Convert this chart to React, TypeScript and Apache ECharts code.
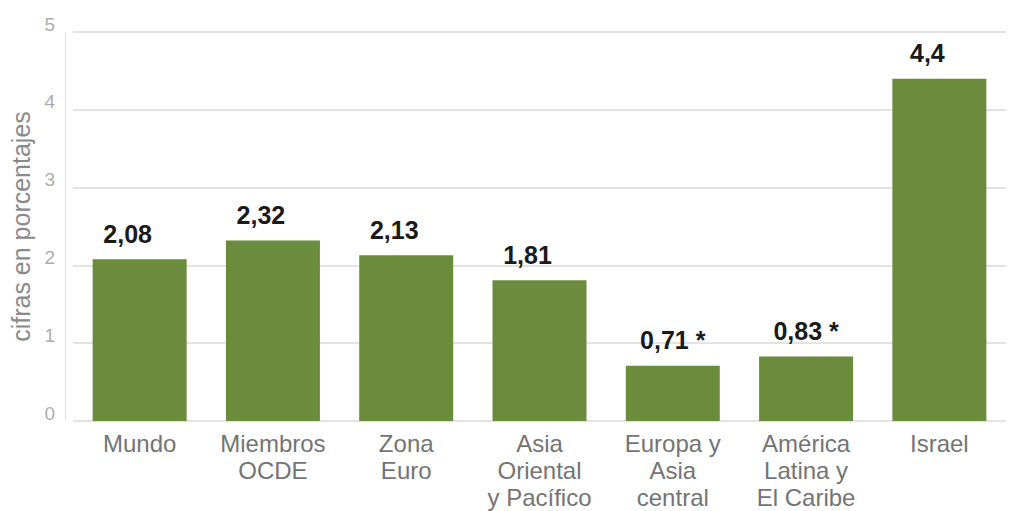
import React, { useEffect, useRef } from "react";
import * as echarts from "echarts";

const categories = [
  "Mundo",
  "Miembros\nOCDE",
  "Zona\nEuro",
  "Asia\nOriental\ny Pacífico",
  "Europa y\nAsia\ncentral",
  "América\nLatina y\nEl Caribe",
  "Israel",
];
const values = [2.08, 2.32, 2.13, 1.81, 0.71, 0.83, 4.4];
const asterisk = [false, false, false, false, true, true, false];
const yTicks = [0, 1, 2, 3, 4, 5];
const yTitle = "cifras en porcentajes";

const FONT = "'Liberation Sans', Arial, Helvetica, sans-serif";

export default function App() {
  const ref = useRef<HTMLDivElement>(null);
  useEffect(() => {
    if (!ref.current) return;
    const chart = echarts.init(ref.current, undefined, { renderer: "svg" });
    const data = values.map((v, i) => ({
      value: v,
      label: {
        formatter: String(v).replace(".", ",") + (asterisk[i] ? " *" : ""),
        offset: asterisk[i] ? [0, 0] : [-12, 0],
      },
    }));
    chart.setOption({
      animation: false,
      backgroundColor: "#ffffff",
      grid: { left: 73, right: 4, top: 32, bottom: 89, containLabel: false },
      xAxis: {
        type: "category",
        data: categories,
        axisLine: { show: false },
        axisTick: { show: false },
        axisLabel: {
          color: "#747474",
          fontSize: 24,
          lineHeight: 27,
          fontFamily: FONT,
          margin: 9,
          interval: 0,
        },
      },
      yAxis: {
        type: "value",
        min: yTicks[0],
        max: yTicks[yTicks.length - 1],
        interval: 1,
        offset: 8,
        name: yTitle,
        nameLocation: "middle",
        nameGap: 28,
        nameTextStyle: { color: "#8a8a8a", fontSize: 25, fontFamily: FONT },
        axisLine: { show: true, lineStyle: { color: "#e6e6e6", width: 1 } },
        axisTick: { show: false },
        axisLabel: {
          color: "#adadad",
          fontSize: 19,
          fontFamily: FONT,
          margin: 10,
          verticalAlign: "bottom",
          lineHeight: 16,
        },
        splitLine: { show: true, lineStyle: { color: "#e3e3e3", width: 2 } },
      },
      series: [
        {
          type: "bar",
          data,
          barWidth: 94,
          itemStyle: { color: "#6b8b3d" },
          label: {
            show: true,
            position: "top",
            distance: 13,
            color: "#1a1a1a",
            fontSize: 25,
            fontWeight: "bold",
            fontFamily: FONT,
          },
        },
      ],
    });
    return () => chart.dispose();
  }, []);
  return (
    <div
      ref={ref}
      style={{ position: "absolute", left: 0, top: 0, width: 1010, height: 511 }}
    />
  );
}
